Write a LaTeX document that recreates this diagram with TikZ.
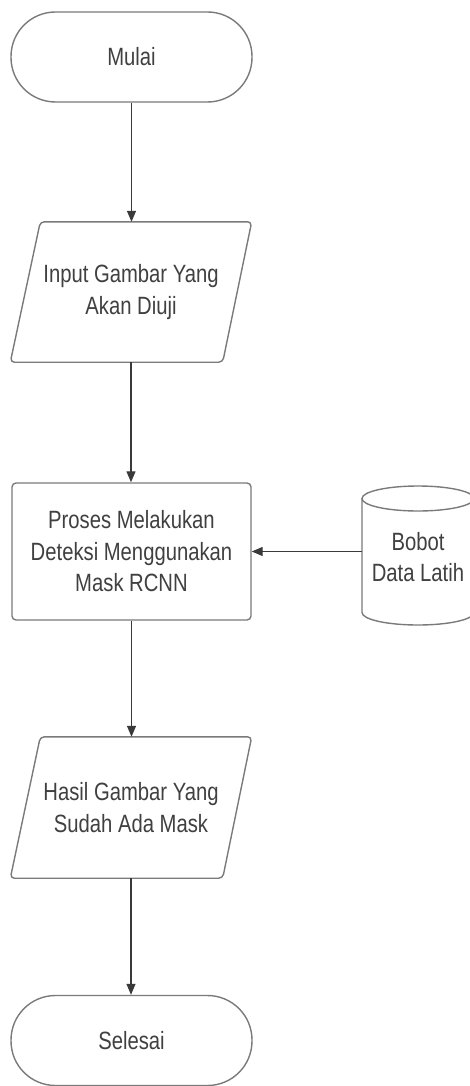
\documentclass[tikz,border=0pt]{standalone}
\usepackage{fontspec}
\setmainfont{Liberation Sans}[FakeStretch=0.81]
\usetikzlibrary{arrows.meta}
\definecolor{txt}{HTML}{404040}
\definecolor{bord}{HTML}{7A7A7A}
\definecolor{arr}{HTML}{3A3A3A}
\begin{document}
\begin{tikzpicture}[x=1pt,y=-1pt,
  lbl/.style={font=\fontsize{25}{31.5}\selectfont, text=txt, align=center},
  term/.style={lbl, draw=bord, line width=1.4pt, rounded corners=44.5pt, minimum width=241pt, minimum height=90pt, inner sep=0pt},
  procbox/.style={lbl, draw=bord, line width=1.4pt, rounded corners=4pt, minimum width=239pt, minimum height=137pt, inner sep=0pt},
  iobox/.style={lbl, minimum width=241pt, inner sep=0pt},
  shapeline/.style={draw=bord, line width=1.4pt, rounded corners=4pt},
  conn/.style={draw=arr, line width=1.2pt, -{Triangle[length=11pt,width=9pt]}}
]
\useasboundingbox (0,0) rectangle (470,1086);

\node[term] (mulai) at (131.5,57) {Mulai};

\node[iobox, minimum height=140pt] (input) at (131,292) {Input Gambar Yang\\Akan Diuji};
\draw[shapeline] ([xshift=30pt]input.north west) -- (input.north east) -- ([xshift=-29pt]input.south east) -- (input.south west) -- cycle;

\node[procbox] (proc) at (131.5,551.5) {Proses Melakukan\\Deteksi Menggunakan\\Mask RCNN};

\node[lbl, minimum width=112pt, minimum height=139pt, inner sep=0pt] (bobot) at (418,557) {Bobot\\Data Latih};
\draw[shapeline, rounded corners=0pt] (418,498.5) ellipse [x radius=56pt, y radius=12.5pt];
\draw[shapeline, rounded corners=0pt] (362,498.5) -- (362,612.5) arc [start angle=180, end angle=360, x radius=56pt, y radius=12.5pt] -- (474,498.5);

\node[iobox, minimum height=141pt] (hasil) at (131,807.5) {Hasil Gambar Yang\\Sudah Ada Mask};
\draw[shapeline] ([xshift=30pt]hasil.north west) -- (hasil.north east) -- ([xshift=-29pt]hasil.south east) -- (hasil.south west) -- cycle;

\node[term] (selesai) at (131.5,1040.5) {Selesai};

\draw[conn] (mulai.south) -- (mulai.south |- input.north);
\draw[conn] (input.south) -- (input.south |- proc.north);
\draw[conn] (bobot.west |- proc.east) -- (proc.east);
\draw[conn] (proc.south) -- (proc.south |- hasil.north);
\draw[conn] (hasil.south) -- (hasil.south |- selesai.north);
\end{tikzpicture}
\end{document}
